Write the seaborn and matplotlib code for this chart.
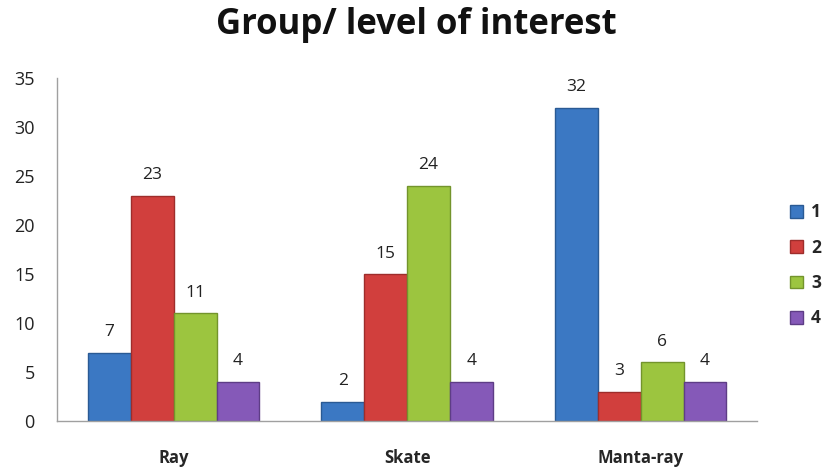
import matplotlib
matplotlib.use("Agg")
import matplotlib.pyplot as plt
import seaborn as sns
import pandas as pd

groups = ["Ray", "Skate", "Manta-ray"]
levels = ["1", "2", "3", "4"]
level_1 = [7, 2, 32]
level_2 = [23, 15, 3]
level_3 = [11, 24, 6]
level_4 = [4, 4, 4]
y_ticks = [0, 5, 10, 15, 20, 25, 30, 35]

colors = ["#3b78c3", "#d13f3d", "#9cc53f", "#8559b8"]
edges = ["#2a5a94", "#9e2d2b", "#73942c", "#5e3d86"]

rows = []
for lvl, vals in zip(levels, [level_1, level_2, level_3, level_4]):
    for g, v in zip(groups, vals):
        rows.append({"group": g, "level": lvl, "count": v})
df = pd.DataFrame(rows)

sns.set_theme(style="white")
plt.rcParams["font.family"] = ["Open Sans", "DejaVu Sans"]

fig = plt.figure(figsize=(8.25, 4.68), dpi=100)
ax = fig.add_axes([0.069, 0.1, 0.849, 0.733])

sns.barplot(data=df, x="group", y="count", hue="level", order=groups,
            hue_order=levels, palette=colors, width=0.735, ax=ax,
            saturation=1, legend=False)

for i, cont in enumerate(ax.containers):
    for bar in cont:
        bar.set_edgecolor(edges[i])
        bar.set_linewidth(1.0)
    ax.bar_label(cont, padding=9, fontsize=12.5, color="#222222")

ax.set_ylim(0, 35)
ax.set_xlim(-0.5, 2.5)
ax.set_yticks(y_ticks)
ax.tick_params(axis="y", labelsize=13, pad=16, length=0, colors="#222222")
ax.tick_params(axis="x", labelsize=12, pad=20, length=0)
for lbl in ax.get_xticklabels():
    lbl.set_fontweight("bold")
ax.set_xlabel("")
ax.set_ylabel("")
for side in ["top", "right"]:
    ax.spines[side].set_visible(False)
for side in ["left", "bottom"]:
    ax.spines[side].set_color("#a0a0a0")
    ax.spines[side].set_linewidth(1.0)

fig.suptitle("Group/ level of interest", x=0.505, y=0.985, fontsize=25,
             fontweight="bold", color="#111111")

handles = [plt.Rectangle((0, 0), 1, 1, facecolor=c, edgecolor=e)
           for c, e in zip(colors, edges)]
fig.legend(handles, levels, loc="center left", bbox_to_anchor=(0.958, 0.433),
           frameon=False, borderpad=0, borderaxespad=0, labelspacing=1.0,
           handlelength=0.75, handleheight=0.75, handletextpad=0.45,
           prop={"weight": "bold", "size": 12.5})

fig.savefig("out.png", dpi=100)
